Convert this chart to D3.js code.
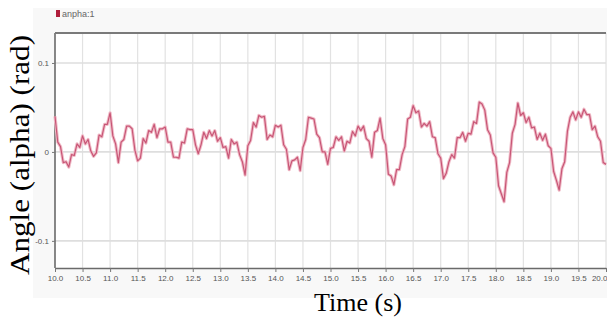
<!DOCTYPE html>
<html>
<head>
<meta charset="utf-8">
<script src="https://cdn.jsdelivr.net/npm/d3@7"></script>
<style>
html,body{margin:0;padding:0;background:#fff;}
svg{display:block;}
</style>
</head>
<body>
<svg id="chart" width="607" height="320"></svg>
<script>
// ---- data ----
const seriesName = "anpha:1";
const timeStart = 10.0;
const timeStep = 0.05;
const alphaValues = [
 0.040, 0.011, 0.006,-0.012,-0.011,-0.017,-0.003,-0.004, 0.009, 0.005,
 0.018, 0.009, 0.014, 0.001,-0.005,-0.001, 0.019, 0.017, 0.031, 0.031,
 0.044, 0.018, 0.009,-0.012, 0.011, 0.014, 0.029, 0.029, 0.026, 0.002,
-0.010,-0.007, 0.015, 0.010, 0.024, 0.022, 0.031, 0.016, 0.026, 0.026,
 0.028, 0.011, 0.011,-0.006,-0.006,-0.007, 0.011, 0.010, 0.026, 0.025,
 0.025, 0.008,-0.002, 0.008, 0.022, 0.015, 0.024, 0.018, 0.024, 0.012,
 0.016, 0.005, 0.006,-0.007, 0.014, 0.009, 0.011,-0.003,-0.011,-0.026,
 0.007, 0.013, 0.033, 0.028, 0.041, 0.039, 0.040, 0.014, 0.019, 0.017,
 0.030, 0.028, 0.030, 0.008, 0.003,-0.020,-0.010,-0.009,-0.006,-0.021,
 0.005, 0.014, 0.039, 0.038, 0.037, 0.020, 0.016, 0.000, 0.000,-0.014,
 0.004, 0.005, 0.017, 0.013, 0.017, 0.001, 0.012, 0.010, 0.023, 0.018,
 0.029, 0.024, 0.029, 0.015, 0.012,-0.006, 0.022, 0.024, 0.038, 0.015,
 0.008,-0.025,-0.027,-0.037,-0.020,-0.020,-0.003, 0.006, 0.037, 0.039,
 0.052, 0.044, 0.046, 0.028, 0.032, 0.029, 0.034, 0.017, 0.016,-0.002,
-0.007,-0.030,-0.024,-0.011,-0.003,-0.007, 0.016, 0.016, 0.022, 0.012,
 0.021, 0.020, 0.034, 0.032, 0.056, 0.054, 0.047, 0.025, 0.019,-0.001,
-0.006,-0.038,-0.047,-0.056,-0.023,-0.012, 0.021, 0.031, 0.055, 0.041,
 0.044, 0.033, 0.039, 0.027, 0.028, 0.014, 0.021, 0.013, 0.020, 0.007,
 0.004,-0.022,-0.032,-0.043,-0.019,-0.011, 0.023, 0.039, 0.045, 0.036,
 0.045, 0.039, 0.048, 0.042, 0.042, 0.025, 0.029, 0.017, 0.012,-0.012,
-0.014
];
const xTickValues = [10.0,10.5,11.0,11.5,12.0,12.5,13.0,13.5,14.0,14.5,15.0,15.5,16.0,16.5,17.0,17.5,18.0,18.5,19.0,19.5,20.0];
const yTickValues = [0.1, 0, -0.1];
const yTickLabels = ["0.1", "0", "-0.1"];
const xTitle = "Time (s)";
const yTitle = "Angle (alpha) (rad)";

// ---- layout ----
const svg = d3.select("#chart");
const W = 607, H = 320;
const plot = {left: 55, right: 606, top: 33, bottom: 268};

const x = d3.scaleLinear().domain([10, 20]).range([plot.left, plot.right]);
const y = d3.scaleLinear().domain([-0.1305, 0.1337]).range([plot.bottom, plot.top]);

// panel background
svg.append("rect").attr("x", 33).attr("y", 8).attr("width", W - 33).attr("height", 290).attr("fill", "#f8f8f8");
svg.append("rect").attr("x", plot.left).attr("y", plot.top).attr("width", plot.right - plot.left).attr("height", plot.bottom - plot.top).attr("fill", "#fff");

// grid
svg.append("g").selectAll("line").data(xTickValues.slice(1)).join("line")
  .attr("x1", d => x(d)).attr("x2", d => x(d))
  .attr("y1", plot.top).attr("y2", plot.bottom)
  .attr("stroke", "#e2e2e2").attr("stroke-width", 1.2);
svg.append("g").selectAll("line").data(yTickValues).join("line")
  .attr("x1", plot.left).attr("x2", plot.right)
  .attr("y1", d => y(d)).attr("y2", d => y(d))
  .attr("stroke", "#dedede").attr("stroke-width", 1.6);

// axes
const tickFont = "'Liberation Sans Narrow','Arial Narrow','Liberation Sans',sans-serif";
const xAxis = d3.axisBottom(x).tickValues(xTickValues).tickFormat(d3.format(".1f")).tickSize(4).tickSizeOuter(0);
const gx = svg.append("g").attr("transform", `translate(0,${plot.bottom})`).call(xAxis);
gx.select(".domain").attr("stroke", "#6a6a6a").attr("stroke-width", 1.6);
gx.selectAll(".tick line").attr("stroke", "#777");
gx.selectAll(".tick text").attr("font-family", tickFont).attr("font-size", 8).attr("fill", "#555").attr("dy", "0.9em").attr("y", 6);
gx.selectAll(".tick text").filter(d => d === 20).attr("text-anchor", "end").attr("x", 1);

const yAxis = d3.axisLeft(y).tickValues(yTickValues).tickFormat((d, i) => yTickLabels[i]).tickSize(3).tickSizeOuter(0);
const gy = svg.append("g").attr("transform", `translate(${plot.left},0)`).call(yAxis);
gy.select(".domain").attr("stroke", "#6a6a6a").attr("stroke-width", 1.6).attr("d", `M0,${plot.top}V${plot.bottom}`);
gy.selectAll(".tick line").attr("stroke", "#777");
gy.selectAll(".tick text").attr("font-family", tickFont).attr("font-size", 8).attr("fill", "#555").attr("x", -6);

// top border
svg.append("line").attr("x1", plot.left).attr("x2", plot.right).attr("y1", plot.top).attr("y2", plot.top)
  .attr("stroke", "#7a7a7a").attr("stroke-width", 2);

// series
const pts = alphaValues.map((v, i) => [timeStart + i * timeStep, v]);
const line = d3.line().x(d => x(d[0])).y(d => y(d[1])).curve(d3.curveLinear);
svg.append("path").datum(pts).attr("d", line).attr("fill", "none")
  .attr("stroke", "#f0bcc8").attr("stroke-width", 3.2).attr("stroke-linejoin", "round");
svg.append("path").datum(pts).attr("d", line).attr("fill", "none")
  .attr("stroke", "#c85676").attr("stroke-width", 1.2).attr("stroke-linejoin", "round");

// legend
svg.append("rect").attr("x", 56).attr("y", 10).attr("width", 4).attr("height", 7).attr("fill", "#b01e3c");
svg.append("text").attr("x", 62).attr("y", 17).text(seriesName)
  .attr("font-family", tickFont).attr("font-size", 9).attr("fill", "#666");

// titles
svg.append("text").attr("transform", "translate(29,155) rotate(-90)").attr("text-anchor", "middle")
  .attr("font-family", "'Liberation Serif','Times New Roman',serif").attr("font-size", 27).attr("fill", "#000")
  .attr("textLength", 240).attr("lengthAdjust", "spacingAndGlyphs")
  .text(yTitle);
svg.append("text").attr("x", 358).attr("y", 311).attr("text-anchor", "middle")
  .attr("font-family", "'Liberation Serif','Times New Roman',serif").attr("font-size", 26).attr("fill", "#000")
  .attr("textLength", 88).attr("lengthAdjust", "spacingAndGlyphs")
  .text(xTitle);
</script>
</body>
</html>
